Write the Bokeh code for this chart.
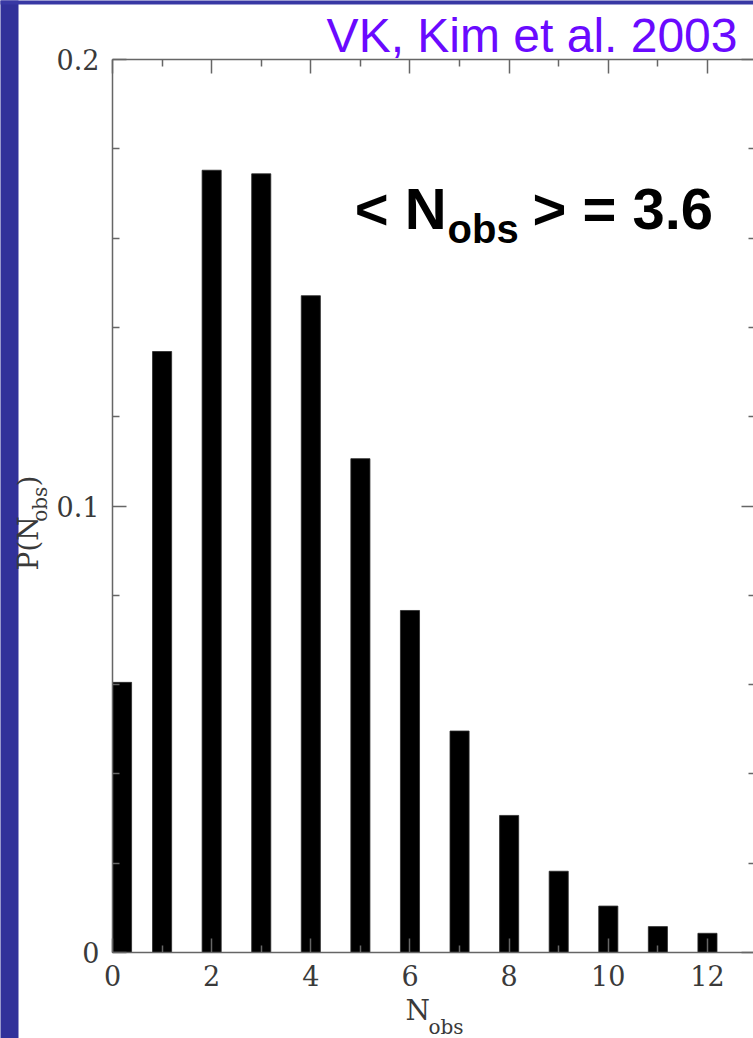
import numpy as np
from bokeh.plotting import figure
from bokeh.models import Range1d, LinearAxis, FixedTicker, Label, BoxAnnotation, ColumnDataSource
from bokeh.embed import file_html
from bokeh.resources import INLINE

# ---- data ----
n_obs = [0, 1, 2, 3, 4, 5, 6, 7, 8, 9, 10, 11, 12]
p_nobs = [0.0605, 0.1346, 0.1752, 0.1744, 0.1471, 0.1106, 0.0766,
          0.0496, 0.0307, 0.0182, 0.0104, 0.0058, 0.0043]
x_major_ticks = [0, 2, 4, 6, 8, 10, 12]
x_minor_ticks = [1, 3, 5, 7, 9, 11]
y_major_ticks = [0, 0.1, 0.2]
y_tick_labels = ["0", "0.1", "0.2"]
y_minor_ticks = [0.02, 0.04, 0.06, 0.08, 0.12, 0.14, 0.16, 0.18]
credit_text = "VK, Kim et al. 2003"
mean_value = "3.6"

# axes box (data units)
x_lo, x_hi = 0.0, 12.97
y_lo, y_hi = 0.0, 0.2

# ---- bars ----
bar_w = 0.385
n_arr = np.array(n_obs, dtype=float)
left = np.maximum(n_arr - bar_w / 2, 0.0)
src = ColumnDataSource(dict(left=left, right=left + bar_w,
                            top=p_nobs, bottom=np.zeros(len(n_obs))))

AX = "#666666"
LBL = "#3a3a3a"
SERIF = "DejaVu Serif"
SANS = "Liberation Sans"
BLUE = "#31319a"

# the frame fills the whole canvas; axes sit at fixed data locations
XR = (-2.2590, 12.9286)
YR = (-0.019261, 0.213214)
p = figure(width=753, height=1038,
           x_range=Range1d(*XR), y_range=Range1d(*YR),
           output_backend="svg", toolbar_location=None,
           x_axis_type=None, y_axis_type=None,
           min_border_left=0, min_border_right=0, min_border_top=0, min_border_bottom=0)
p.outline_line_color = None
p.background_fill_color = "white"
p.border_fill_color = "white"

# slide background strips (left and top edges)
strip_right = -1.8959
strip_bottom = 0.21232
p.add_layout(BoxAnnotation(left=XR[0] - 0.1, right=strip_right, top=YR[1] + 0.01, bottom=YR[0] - 0.01,
                           fill_color=BLUE, fill_alpha=1.0, line_color=None, level="underlay"))
p.add_layout(BoxAnnotation(left=XR[0] - 0.1, right=XR[1] + 0.1, top=YR[1] + 0.01, bottom=strip_bottom,
                           fill_color="#3838a4", fill_alpha=1.0, line_color=None, level="underlay"))

p.quad(left="left", right="right", top="top", bottom="bottom", source=src,
       fill_color="black", line_color="#2a2a2a", line_width=0.8)

def make_axis(ticker, loc, bounds, show_labels, show_line=True):
    ax = LinearAxis(ticker=ticker, fixed_location=loc, bounds=bounds)
    ax.major_tick_in = 14
    ax.major_tick_out = 0
    ax.minor_tick_in = 7
    ax.minor_tick_out = 0
    ax.major_tick_line_color = AX
    ax.minor_tick_line_color = AX
    ax.major_tick_line_width = 1.5
    ax.minor_tick_line_width = 1.5
    ax.axis_line_color = AX if show_line else None
    ax.axis_line_width = 1.5
    ax.major_label_text_font = SERIF
    ax.major_label_text_font_size = "27px"
    ax.major_label_standoff = 13
    ax.major_label_text_color = LBL if show_labels else None
    return ax

xt = FixedTicker(ticks=x_major_ticks, minor_ticks=x_minor_ticks)
yt = FixedTicker(ticks=y_major_ticks, minor_ticks=y_minor_ticks)

bottom_ax = make_axis(xt, y_lo, (x_lo, x_hi), True)
left_ax = make_axis(yt, x_lo, (y_lo, y_hi), True)
left_ax.major_label_overrides = {t: s for t, s in zip(y_major_ticks, y_tick_labels)}
top_ax = make_axis(xt, y_hi, (x_lo, x_hi), False)
right_ax = make_axis(yt, x_hi, (y_lo, y_hi), False, show_line=False)
p.add_layout(bottom_ax, "below")
p.add_layout(left_ax, "left")
p.add_layout(top_ax, "above")
p.add_layout(right_ax, "right")

def lab(x, y, text, font, size, align="left", color=LBL, style="normal", angle=0.0):
    p.add_layout(Label(x=x, y=y, text=text, text_align=align, text_baseline="middle",
                       text_font=font, text_font_size=size, text_font_style=style,
                       text_color=color, angle=angle))

# credit, top right
lab(12.606, 0.2053, credit_text, SANS, "48px", align="right", color="#6a0aff")

# < N_obs > = 3.6
lab(6.737, 0.1667, "< N", SANS, "58px", align="right", color="black", style="bold")
lab(6.757, 0.16215, "obs", SANS, "40px", color="black", style="bold")
lab(8.471, 0.1667, "> = " + mean_value, SANS, "58px", color="black", style="bold")

# y axis label P(N_obs), rotated
lab(-1.690, 0.08555, "P(N", SERIF, "28px", angle=np.pi / 2)
lab(-1.472, 0.09646, "obs", SERIF, "20px", angle=np.pi / 2)
lab(-1.690, 0.10437, ")", SERIF, "28px", angle=np.pi / 2)

# x axis label N_obs
lab(5.910, -0.01303, "N", SERIF, "28px")
lab(6.373, -0.01658, "obs", SERIF, "20px")

open("out.html", "w").write(file_html(p, INLINE))
